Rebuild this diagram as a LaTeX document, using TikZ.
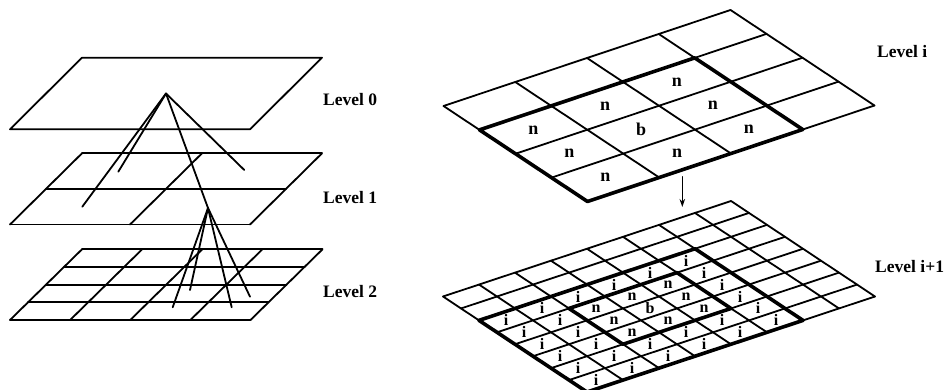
\documentclass[tikz,border=0pt]{standalone}
\usepackage{fontspec}
\setmainfont{Liberation Serif}
\usetikzlibrary{arrows.meta}
\begin{document}
\begin{tikzpicture}[x=1pt,y=-1pt,line join=round,line cap=round,
  thingrid/.style={line width=1.8pt},
  thickgrid/.style={line width=3.6pt},
  lvl/.style={anchor=base west,font=\bfseries\fontsize{17.5}{18}\selectfont,inner sep=0pt},
  cellA/.style={font=\bfseries\fontsize{18}{18}\selectfont,inner sep=0pt},
  cellB/.style={font=\bfseries\fontsize{16}{16}\selectfont,inner sep=0pt}]
\useasboundingbox (0,0) rectangle (951,389);
\fill[white] (0,0) rectangle (951,389);

% ---------- left stack ----------
\begin{scope}[shift={(82,57.7)},x={(240pt,0pt)},y={(-72pt,-71.6pt)}]
  \draw[thingrid] (0,0) -- (1,0) -- (1,1) -- (0,1) -- cycle;
  \coordinate (apex0) at (0.5,0.5);
\end{scope}
\begin{scope}[shift={(82,153.3)},x={(240pt,0pt)},y={(-72pt,-71.2pt)}]
  \foreach \k in {0,0.5,1} {\draw[thingrid] (\k,0) -- (\k,1); \draw[thingrid] (0,\k) -- (1,\k);}
\end{scope}
\begin{scope}[shift={(82,249.3)},x={(240.5pt,0pt)},y={(-72pt,-70.7pt)}]
  \foreach \k in {0,0.25,0.5,0.75,1} {\draw[thingrid] (\k,0) -- (\k,1); \draw[thingrid] (0,\k) -- (1,\k);}
\end{scope}

\coordinate (e1) at (118.3,171.7);
\coordinate (e2) at (244.3,170);
\coordinate (e3) at (82.3,206.7);
\coordinate (apex1) at (208,208);
\coordinate (f1) at (190,290);
\coordinate (f2) at (250,296.7);
\coordinate (f3) at (172.7,307.3);
\coordinate (f4) at (231.7,307.3);
\foreach \t in {e1,e2,e3,apex1} {\draw[thingrid] (apex0) -- (\t);}
\foreach \t in {f1,f2,f3,f4} {\draw[thingrid] (apex1) -- (\t);}

\node[lvl] (l0) at (323,105) {Level 0};
\node[lvl] (l1) at (323,203) {Level 1};
\node[lvl] (l2) at (323,297) {Level 2};

% ---------- right upper grid (Level i) ----------
\begin{scope}[shift={(443.5,106)},x={(71.75pt,24pt)},y={(36pt,-23.875pt)}]
  \foreach \k in {0,...,4} {\draw[thingrid] (\k,0) -- (\k,4); \draw[thingrid] (0,\k) -- (4,\k);}
  \draw[thickgrid] (0,1) -- (3,1) -- (3,4) -- (0,4) -- cycle;
  \node[cellA] (ub) at (1.5,2.5) {b};
  \foreach \p/\q [count=\c] in {0/1,1/1,2/1,0/2,2/2,0/3,1/3,2/3}
    {\node[cellA] (un\c) at (\p+0.5,\q+0.5) {n};}
\end{scope}
\node[lvl] (li) at (877,57) {Level i};

\coordinate (arrS) at (682.3,176.7);
\coordinate (arrE) at (682.3,207);
\draw[line width=1.4pt,-{Stealth[length=8pt,width=5.5pt]}] (arrS) -- (arrE);

% ---------- right lower grid (Level i+1) ----------
\begin{scope}[shift={(443,296.5)},x={(36pt,11.9375pt)},y={(18pt,-11.9375pt)}]
  \foreach \k in {0,...,8} {\draw[thingrid] (\k,0) -- (\k,8); \draw[thingrid] (0,\k) -- (8,\k);}
  \draw[thickgrid] (0,2) -- (6,2) -- (6,8) -- (0,8) -- cycle;
  \draw[thickgrid] (2,3) -- (5,3) -- (5,6) -- (2,6) -- cycle;
  \node[cellB] (lb) at (3.5,4.5) {b};
  \foreach \p/\q [count=\c] in {2/3,3/3,4/3,2/4,4/4,2/5,3/5,4/5}
    {\node[cellB] (ln\c) at (\p+0.5,\q+0.5) {n};}
  \foreach \p/\q [count=\c] in {0/2,1/2,2/2,3/2,4/2,5/2,0/3,1/3,5/3,0/4,1/4,5/4,0/5,1/5,5/5,
      0/6,1/6,2/6,3/6,4/6,5/6,0/7,1/7,2/7,3/7,4/7,5/7}
    {\node[cellB] (lii\c) at (\p+0.5,\q+0.5) {i};}
\end{scope}
\node[lvl] (lj) at (875,272) {Level i+1};
\end{tikzpicture}
\end{document}
